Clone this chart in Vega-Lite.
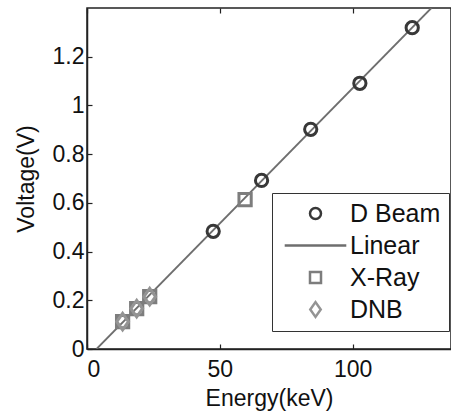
{
  "$schema": "https://vega.github.io/schema/vega-lite/v6.json",
  "width": 364,
  "height": 341,
  "autosize": {"type": "none"},
  "padding": {"left": 87, "top": 8, "right": 0, "bottom": 62},
  "background": "white",
  "config": {
    "font": "Liberation Sans",
    "view": {"stroke": "#222", "strokeWidth": 1.5},
    "axis": {
      "domainColor": "#222", "domainWidth": 1.5,
      "tickColor": "#222", "tickSize": -5, "tickWidth": 1.2,
      "grid": false,
      "labelFontSize": 23, "titleFontSize": 23,
      "labelColor": "#111", "titleColor": "#111",
      "labelFont": "Liberation Sans", "titleFont": "Liberation Sans",
      "titleFontWeight": "normal"
    }
  },
  "resolve": {"axis": {"x": "independent"}},
  "datasets": {
    "pts": [
      {"series": "D Beam", "energy": 47.5, "voltage": 0.483},
      {"series": "D Beam", "energy": 65.7, "voltage": 0.692},
      {"series": "D Beam", "energy": 84.2, "voltage": 0.902},
      {"series": "D Beam", "energy": 102.7, "voltage": 1.091},
      {"series": "D Beam", "energy": 122.4, "voltage": 1.319},
      {"series": "X-Ray", "energy": 59.5, "voltage": 0.613},
      {"series": "X-Ray", "energy": 13.4, "voltage": 0.112},
      {"series": "X-Ray", "energy": 18.7, "voltage": 0.166},
      {"series": "X-Ray", "energy": 23.6, "voltage": 0.215},
      {"series": "DNB", "energy": 13.4, "voltage": 0.112},
      {"series": "DNB", "energy": 18.7, "voltage": 0.166},
      {"series": "DNB", "energy": 23.6, "voltage": 0.215}
    ],
    "fit": [
      {"energy": 3.6, "voltage": 0},
      {"energy": 129.6, "voltage": 1.4}
    ]
  },
  "layer": [
    {
      "data": {"name": "fit"},
      "mark": {"type": "line", "color": "#6e6e6e", "strokeWidth": 1.8, "clip": true},
      "encoding": {
        "x": {"field": "energy", "type": "quantitative", "scale": {"domain": [0, 137], "nice": false},
              "axis": {"values": [0, 50, 100], "format": "d", "title": "Energy(keV)", "labelPadding": 14, "titlePadding": 6}},
        "y": {"field": "voltage", "type": "quantitative", "scale": {"domain": [0, 1.4], "nice": false},
              "axis": {"values": [0, 0.2, 0.4, 0.6, 0.8, 1, 1.2], "format": "~g", "title": "Voltage(V)", "labelPadding": 8, "titlePadding": 14}}
      }
    },
    {
      "data": {"name": "pts"},
      "mark": {"type": "point", "filled": false, "strokeWidth": 3, "size": 150, "opacity": 1},
      "encoding": {
        "x": {"field": "energy", "type": "quantitative",
              "axis": {"orient": "top", "values": [0, 50, 100], "labels": false, "title": null, "domain": false}},
        "y": {"field": "voltage", "type": "quantitative"},
        "color": {
          "field": "series", "type": "nominal",
          "scale": {"domain": ["D Beam", "Linear", "X-Ray", "DNB"], "range": ["#383838", "#6e6e6e", "#7d7d7d", "#949494"]},
          "legend": {"title": null, "orient": "none", "legendX": 185, "legendY": 185, "labelFontSize": 25, "labelColor": "#111", "labelFont": "Liberation Sans", "strokeColor": "#333", "fillColor": "white", "padding": 8, "symbolSize": 121, "symbolStrokeWidth": 2.5, "symbolOffset": 23, "labelOffset": 22, "rowPadding": 6}
        },
        "shape": {
          "field": "series", "type": "nominal",
          "scale": {"domain": ["D Beam", "Linear", "X-Ray", "DNB"], "range": ["circle", "M-5.6,0H5.6", "square", "M-0.95,0L0,-1.35L0.95,0L0,1.35Z"]},
          "legend": {"title": null, "orient": "none", "legendX": 185, "legendY": 185, "labelFontSize": 25, "labelColor": "#111", "labelFont": "Liberation Sans", "strokeColor": "#333", "fillColor": "white", "padding": 8, "symbolSize": 121, "symbolStrokeWidth": 2.5, "symbolOffset": 23, "labelOffset": 22, "rowPadding": 6}
        }
      }
    }
  ]
}
